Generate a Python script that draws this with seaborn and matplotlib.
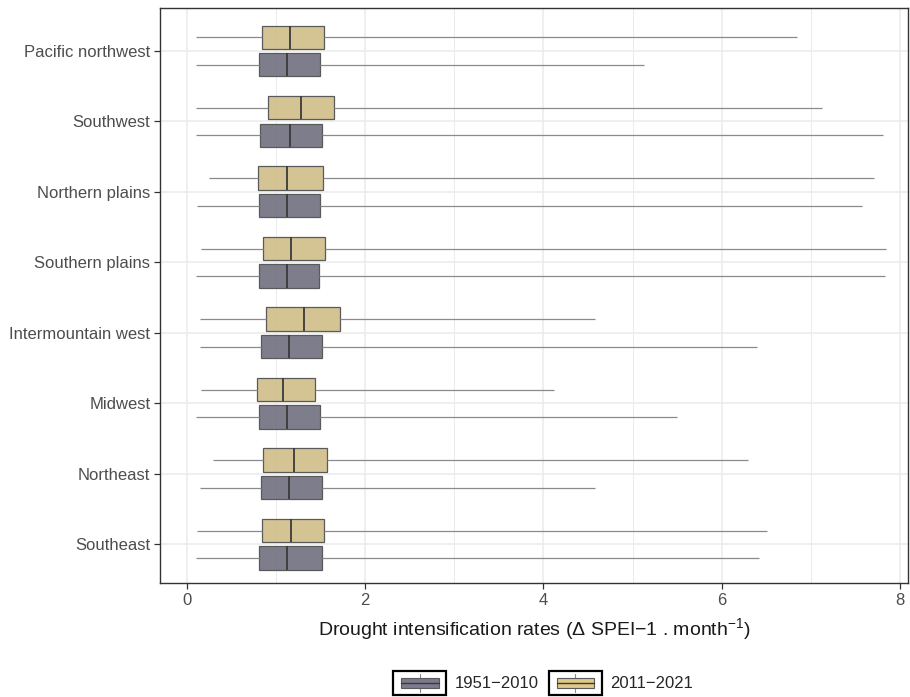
import numpy as np
import pandas as pd
import seaborn as sns
import matplotlib
matplotlib.use("Agg")
import matplotlib.pyplot as plt
from matplotlib.legend_handler import HandlerBase
from matplotlib.patches import Rectangle
from matplotlib.lines import Line2D
from matplotlib.colors import to_rgba

regions = ["Pacific northwest", "Southwest", "Northern plains", "Southern plains",
           "Intermountain west", "Midwest", "Northeast", "Southeast"]
periods = ["1951\u22122010", "2011\u22122021"]

# 1951-2010 five-number summaries
old_min = [0.10, 0.10, 0.11, 0.10, 0.15, 0.10, 0.15, 0.10]
old_q1 = [0.81, 0.82, 0.81, 0.81, 0.83, 0.81, 0.83, 0.81]
old_med = [1.13, 1.16, 1.12, 1.12, 1.15, 1.13, 1.15, 1.13]
old_q3 = [1.50, 1.52, 1.49, 1.48, 1.52, 1.50, 1.52, 1.52]
old_max = [5.13, 7.81, 7.57, 7.83, 6.40, 5.50, 4.58, 6.42]

# 2011-2021 five-number summaries
new_min = [0.10, 0.10, 0.25, 0.16, 0.15, 0.16, 0.29, 0.11]
new_q1 = [0.84, 0.91, 0.80, 0.85, 0.89, 0.79, 0.85, 0.84]
new_med = [1.16, 1.28, 1.13, 1.17, 1.31, 1.08, 1.20, 1.17]
new_q3 = [1.54, 1.65, 1.53, 1.55, 1.72, 1.44, 1.57, 1.54]
new_max = [6.84, 7.13, 7.71, 7.84, 4.58, 4.12, 6.30, 6.51]

colors = {periods[0]: "#6e6c80", periods[1]: "#dcc47d"}
FILL_ALPHA = 0.9

rows = []
for i, r in enumerate(regions):
    for p, stats in ((periods[0], (old_min, old_q1, old_med, old_q3, old_max)),
                     (periods[1], (new_min, new_q1, new_med, new_q3, new_max))):
        for s in stats:
            rows.append({"region": r, "period": p, "rate": s[i]})
df = pd.DataFrame(rows)

sns.set_theme(style="white")
plt.rcParams["font.family"] = ["Liberation Sans", "DejaVu Sans"]
plt.rcParams["mathtext.fontset"] = "custom"
plt.rcParams["mathtext.rm"] = "Liberation Sans"
plt.rcParams["mathtext.it"] = "Liberation Sans:italic"

fig = plt.figure(figsize=(9.1, 6.97), dpi=100)
ax = fig.add_axes([160 / 910, 1 - 583 / 697, (908 - 160) / 910, (583 - 8) / 697])

sns.boxplot(data=df, x="rate", y="region", hue="period", order=regions,
            hue_order=[periods[1], periods[0]], palette=colors,
            whis=(0, 100), showfliers=False, showcaps=False,
            width=0.78, gap=0.15, linecolor="#5a5a5a", linewidth=0.9,
            medianprops=dict(color="#3a3a3a", linewidth=1.3),
            whiskerprops=dict(color="#8a8a8a", linewidth=0.9),
            legend=False, ax=ax, zorder=3)

for patch in ax.patches:
    fc = patch.get_facecolor()
    patch.set_facecolor(to_rgba(fc[:3], FILL_ALPHA))

ax.set_xlim(-0.3, 8.09)
ax.set_ylim(7.55, -0.61)
ax.set_xticks([0, 2, 4, 6, 8])
ax.set_xticks([1, 3, 5, 7], minor=True)
ax.grid(True, which="major", color="#ebebeb", linewidth=1.1, zorder=0)
ax.grid(True, which="minor", axis="x", color="#ebebeb", linewidth=0.7, zorder=0)
ax.set_axisbelow(True)

for sp in ax.spines.values():
    sp.set_color("#333333")
    sp.set_linewidth(1.0)

ax.tick_params(axis="both", which="major", length=4, width=0.9, color="#333333",
               labelsize=12, labelcolor="#4d4d4d", bottom=True, left=True)
ax.tick_params(axis="x", which="minor", length=0)
ax.tick_params(axis="x", pad=3)
ax.tick_params(axis="y", pad=3)
ax.set_ylabel("")
ax.set_xlabel("Drought intensification rates (\u0394 SPEI\u22121 . month$^{-1}$)",
              fontsize=14, color="#1a1a1a", labelpad=6)


class BoxKeyHandler(HandlerBase):
    def __init__(self, color):
        super().__init__()
        self.color = color

    def create_artists(self, legend, orig_handle, xdescent, ydescent, width, height,
                       fontsize, trans):
        x0, y0 = -xdescent, -ydescent
        outer = Rectangle((x0, y0), width, height, facecolor="white",
                          edgecolor="black", linewidth=1.6, transform=trans)
        bx = x0 + width * 0.15
        bw = width * 0.71
        bh = height * 0.45
        by = y0 + (height - bh) / 2
        cx = bx + bw / 2
        wl1 = Line2D([cx, cx], [y0 + height * 0.1, by], color="#8a8a8a",
                     linewidth=0.8, transform=trans)
        wl2 = Line2D([cx, cx], [by + bh, y0 + height * 0.9], color="#8a8a8a",
                     linewidth=0.8, transform=trans)
        inner = Rectangle((bx, by), bw, bh, facecolor=to_rgba(self.color, FILL_ALPHA),
                          edgecolor="#5a5a5a", linewidth=0.8, transform=trans)
        med = Line2D([bx, bx + bw], [by + bh / 2] * 2, color="#3a3a3a",
                     linewidth=1.0, transform=trans)
        return [outer, wl1, wl2, inner, med]


h1 = Rectangle((0, 0), 1, 1)
h2 = Rectangle((0, 0), 1, 1)
fig.legend([h1, h2], periods, loc="center", bbox_to_anchor=(543 / 910, 1 - 683 / 697),
           ncol=2, frameon=False, fontsize=12, handlelength=3.2, handleheight=1.8,
           handletextpad=0.5, columnspacing=0.6, borderpad=0.2,
           handler_map={h1: BoxKeyHandler(colors[periods[0]]),
                        h2: BoxKeyHandler(colors[periods[1]])})

fig.savefig("out.png", dpi=100, facecolor="white")
